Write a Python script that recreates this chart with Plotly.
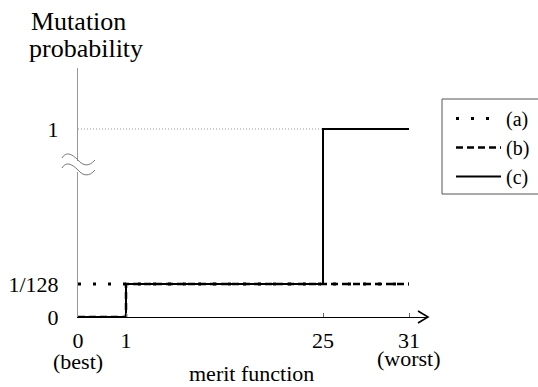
import numpy as np
import plotly.graph_objects as go

# ---------------- data ----------------
series_names = ["(a)", "(b)", "(c)"]
merit_a = [0, 31]
prob_a = [1/128, 1/128]
merit_b = [0, 1, 31]
prob_b = [0, 1/128, 1/128]
merit_c = [0, 1, 25, 31]
prob_c = [0, 1/128, 1, 1]

x_tick_vals = [0, 1, 25, 31]
x_tick_text = ["0", "1", "25", "31"]
x_end_labels = {0: "(best)", 31: "(worst)"}
y_tick_vals = [0, 1/128, 1]
y_tick_text = ["0", "1/128", "1"]

# ---------------- schematic (broken) scales ----------------
# piecewise-linear axis scales, as in the original schematic figure
X_KNOTS = [0, 1, 25, 31]
X_DISP = [0, 48, 245, 331]
X_MAX = 350
Y_KNOTS = [0, 1/128, 1]
Y_DISP = [0, 33, 188]
Y_MAX = 249


def xs(v):
    return np.interp(v, X_KNOTS, X_DISP).tolist()


def ys(v):
    return np.interp(v, Y_KNOTS, Y_DISP).tolist()


W, H = 538, 387
ML, MR, MT, MB = 78, 110, 68, 70
PW, PH = W - ML - MR, H - MT - MB


def px(p):  # figure pixel -> paper x
    return (p - ML) / PW


def py(p):  # figure pixel -> paper y
    return (H - MB - p) / PH


FONT = "Liberation Serif"

fig = go.Figure()
styles = [
    dict(color="black", width=3, dash="3px,12px"),
    dict(color="black", width=2.5, dash="7px,4px"),
    dict(color="black", width=2, dash="solid"),
]
for name, mx, pv, st in zip(series_names,
                            [merit_a, merit_b, merit_c],
                            [prob_a, prob_b, prob_c], styles):
    fig.add_trace(go.Scatter(x=xs(mx), y=ys(pv), mode="lines", name=name,
                             line=dict(shape="hv", **st), cliponaxis=False))

shapes = []
# dotted guide at probability 1
shapes.append(dict(type="line", xref="x", yref="y", x0=xs(0), x1=xs(25),
                   y0=ys(1), y1=ys(1), layer="below",
                   line=dict(color="#999", width=1, dash="1px,2px")))
# axis break on y axis
shapes.append(dict(type="rect", xref="paper", yref="paper", xsizemode="pixel",
                   xanchor=0, x0=-3, x1=3, y0=py(172), y1=py(161),
                   fillcolor="white", line=dict(width=0)))
for yc in (160, 170):
    shapes.append(dict(type="path", xref="paper", yref="paper",
                       xsizemode="pixel", ysizemode="pixel",
                       xanchor=0, yanchor=py(yc),
                       path="M -16,2 C -12,9 -6,6 0,0 C 5,-6 11,-7 17,0",
                       line=dict(color="#777", width=1)))
# arrow head of x axis
shapes.append(dict(type="path", xref="paper", yref="paper",
                   xsizemode="pixel", ysizemode="pixel", xanchor=1, yanchor=0,
                   path="M -10,6 L 0,0 L -10,-6",
                   line=dict(color="black", width=1.6)))
# legend frame (open to the right)
shapes.append(dict(type="rect", xref="paper", yref="paper",
                   x0=px(442), x1=px(548), y0=py(194), y1=py(99),
                   line=dict(color="#555", width=1)))

annotations = [
    dict(text="Mutation", xref="paper", yref="paper", x=px(29), y=py(21),
         xanchor="left", yanchor="middle", showarrow=False,
         font=dict(family=FONT, size=26, color="black")),
    dict(text="probability", xref="paper", yref="paper", x=px(27), y=py(49),
         xanchor="left", yanchor="middle", showarrow=False,
         font=dict(family=FONT, size=26, color="black")),
    dict(text="merit function", xref="paper", yref="paper", x=px(251), y=py(373),
         xanchor="center", yanchor="middle", showarrow=False,
         font=dict(family=FONT, size=22, color="black")),
]
for v, lab in x_end_labels.items():
    annotations.append(dict(text=lab, xref="x", yref="paper", x=xs(v),
                            y=py(361 if v == 0 else 358), xanchor="center",
                            yanchor="middle", showarrow=False,
                            font=dict(family=FONT, size=22, color="black")))

fig.update_layout(
    width=W, height=H,
    margin=dict(l=ML, r=MR, t=MT, b=MB, autoexpand=False),
    paper_bgcolor="white", plot_bgcolor="white",
    font=dict(family=FONT, size=22, color="black"),
    shapes=shapes, annotations=annotations,
    showlegend=True,
    legend=dict(x=px(451), y=py(99), xanchor="left", yanchor="top",
                bgcolor="rgba(0,0,0,0)", borderwidth=0, itemwidth=45,
                font=dict(family=FONT, size=20, color="black")),
    xaxis=dict(range=[0, X_MAX], showgrid=False, zeroline=False,
               showline=True, linecolor="black", linewidth=1,
               tickvals=xs(x_tick_vals), ticktext=x_tick_text,
               ticks="inside", ticklen=4, tickcolor="#666",
               ticklabelstandoff=4,
               tickfont=dict(family=FONT, size=22, color="black")),
    yaxis=dict(range=[0, Y_MAX], showgrid=False, zeroline=False,
               showline=True, linecolor="#999", linewidth=1,
               tickvals=ys(y_tick_vals), ticktext=y_tick_text,
               ticks="", ticklabelstandoff=14,
               tickfont=dict(family=FONT, size=22, color="black")),
)

fig.write_html("out.html",
               config={"displayModeBar": False, "staticPlot": True},
               post_script="document.body.style.margin='0';"
                           "document.body.style.overflow='hidden';")
